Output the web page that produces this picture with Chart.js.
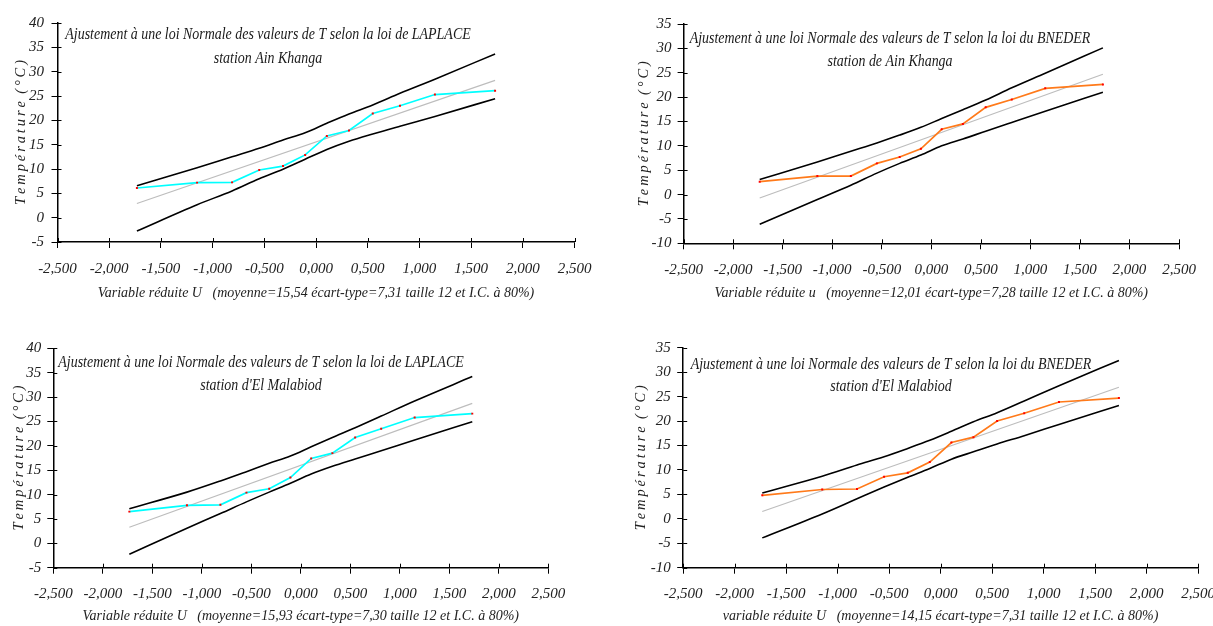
<!DOCTYPE html>
<html lang="fr">
<head>
<meta charset="utf-8">
<title>Ajustement à une loi Normale</title>
<script src="https://cdn.jsdelivr.net/npm/chart.js@4.4.1/dist/chart.umd.min.js"></script>
<style>
  html, body { margin: 0; padding: 0; background: #fff; overflow: hidden; }
  canvas { position: absolute; }
</style>
</head>
<body>
<canvas id="c1" width="606" height="313" style="left:0px;top:0px"></canvas>
<canvas id="c2" width="606" height="313" style="left:607px;top:0px"></canvas>
<canvas id="c3" width="606" height="313" style="left:0px;top:313px"></canvas>
<canvas id="c4" width="630" height="313" style="left:607px;top:313px"></canvas>
<script>
// Variable réduite (abscisses des 12 valeurs classées)
const uValues = [-1.732, -1.150, -0.812, -0.549, -0.319, -0.105, 0.105, 0.319, 0.549, 0.812, 1.150, 1.732];
const uFit = [-1.732, 1.732];

// Graduations
const xTickValues = [-2.5, -2, -1.5, -1, -0.5, 0, 0.5, 1, 1.5, 2, 2.5];
const xTickLabels = ['-2,500', '-2,000', '-1,500', '-1,000', '-0,500', '0,000', '0,500', '1,000', '1,500', '2,000', '2,500'];
const yTicksA = [-5, 0, 5, 10, 15, 20, 25, 30, 35, 40];
const yTicksB = [-10, -5, 0, 5, 10, 15, 20, 25, 30, 35];

// Ain Khanga - LAPLACE
const tLaplaceAK = [6.1, 7.2, 7.25, 9.8, 10.6, 12.9, 16.8, 17.9, 21.4, 23.0, 25.3, 26.1];
const fitLaplaceAK = [2.9, 28.2];
const supLaplaceAK = [6.55, 10.25, 12.5, 14.25, 15.95, 17.45, 19.4, 21.3, 23.15, 25.55, 28.45, 33.65];
const infLaplaceAK = [-2.75, 2.65, 5.5, 8.0, 9.95, 12.0, 14.0, 15.7, 17.2, 18.8, 20.8, 24.45];

// Ain Khanga - BNEDER
const tBnederAK = [2.65, 3.8, 3.8, 6.4, 7.7, 9.4, 13.4, 14.5, 17.9, 19.5, 21.8, 22.6];
const fitBnederAK = [-0.7, 24.7];
const supBnederAK = [3.1, 6.7, 8.9, 10.6, 12.2, 13.8, 15.6, 17.4, 19.4, 21.9, 24.9, 30.1];
const infBnederAK = [-6.1, -1.0, 1.9, 4.4, 6.4, 8.1, 10.0, 11.4, 13.0, 14.8, 17.1, 21.0];

// El Malabiod - LAPLACE
const tLaplaceEM = [6.5, 7.8, 7.9, 10.4, 11.2, 13.5, 17.4, 18.5, 21.7, 23.5, 25.8, 26.6];
const fitLaplaceEM = [3.3, 28.7];
const supLaplaceEM = [7.1, 10.5, 12.8, 14.7, 16.4, 17.9, 19.8, 21.7, 23.7, 26.1, 29.2, 34.2];
const infLaplaceEM = [-2.25, 3.1, 6.1, 8.5, 10.5, 12.3, 14.2, 15.8, 17.3, 19.0, 21.2, 24.95];

// El Malabiod - BNEDER
const tBnederEM = [4.8, 6.0, 6.1, 8.6, 9.4, 11.6, 15.6, 16.7, 20.0, 21.6, 23.9, 24.7];
const fitBnederEM = [1.5, 26.9];
const supBnederEM = [5.3, 8.7, 11.0, 12.7, 14.4, 16.06, 17.9, 19.85, 21.7, 24.1, 27.2, 32.4];
const infBnederEM = [-3.9, 1.0, 4.1, 6.5, 8.5, 10.3, 12.2, 13.7, 15.3, 17.0, 19.3, 23.2];

const yTitle = 'T\u2009e\u2009m\u2009p\u2009é\u2009r\u2009a\u2009t\u2009u\u2009r\u2009e\u2002(\u2009°\u2009C\u2009)';
const police = '"Liberation Serif", "DejaVu Serif", serif';

const zip = (xs, ys) => xs.map((x, i) => ({ x: x, y: ys[i] }));

// Titre dessiné dans la zone du graphe (texte condensé comme l'original)
const titreInterne = {
  id: 'titreInterne',
  beforeDatasetsDraw(chart, args, opts) {
    const ctx = chart.ctx;
    ctx.save();
    ctx.font = 'italic 17px ' + police;
    ctx.fillStyle = '#1a1a1a';
    ctx.textAlign = 'center';
    ctx.textBaseline = 'middle';
    opts.lines.forEach((txt, i) => {
      ctx.save();
      ctx.translate(opts.x, opts.y[i]);
      ctx.scale(0.82, 1);
      ctx.fillText(txt, 0, 0);
      ctx.restore();
    });
    ctx.restore();
  }
};

// Petites graduations qui traversent les axes vers l'intérieur
const ticksInternes = {
  id: 'ticksInternes',
  afterDraw(chart) {
    const { ctx, chartArea, scales } = chart;
    ctx.save();
    ctx.strokeStyle = '#000';
    ctx.lineWidth = 1;
    ctx.beginPath();
    scales.x.ticks.forEach(t => {
      const px = Math.round(scales.x.getPixelForValue(t.value)) + 0.5;
      ctx.moveTo(px, chartArea.bottom);
      ctx.lineTo(px, chartArea.bottom - 4);
    });
    scales.y.ticks.forEach(t => {
      const py = Math.round(scales.y.getPixelForValue(t.value)) + 0.5;
      ctx.moveTo(chartArea.left, py);
      ctx.lineTo(chartArea.left + 4, py);
    });
    ctx.stroke();
    ctx.restore();
  }
};

function makeChart(id, o) {
  const ctx = document.getElementById(id).getContext('2d');
  const bande = ys => ({
    data: zip(uValues, ys),
    borderColor: '#000',
    borderWidth: 1.6,
    pointRadius: 0,
    cubicInterpolationMode: 'monotone'
  });
  return new Chart(ctx, {
    type: 'line',
    data: {
      datasets: [
        {
          data: zip(uValues, o.values),
          borderColor: o.color,
          borderWidth: 1.7,
          pointRadius: 1.4,
          pointStyle: 'rect',
          pointBackgroundColor: '#ff0000',
          pointBorderWidth: 0,
          tension: 0
        },
        { data: zip(uFit, o.fit), borderColor: '#bdbdbd', borderWidth: 1.2, pointRadius: 0, tension: 0 },
        bande(o.sup),
        bande(o.inf)
      ]
    },
    options: {
      responsive: false,
      animation: false,
      devicePixelRatio: 1,
      layout: { padding: { left: 0, top: o.padTop, right: o.padRight, bottom: 0 } },
      plugins: {
        legend: { display: false },
        tooltip: { enabled: false },
        titreInterne: { lines: o.titre, x: o.titreX, y: o.titreY }
      },
      scales: {
        x: {
          type: 'linear',
          min: -2.5,
          max: 2.5,
          afterBuildTicks: s => { s.ticks = xTickValues.map(v => ({ value: v })); },
          afterFit: s => { s.height = o.xAxisH; },
          ticks: {
            callback: (v, i) => xTickLabels[i],
            font: { family: police, size: 15, style: 'italic' },
            color: '#222',
            padding: o.xTickPad,
            maxRotation: 0,
            autoSkip: false
          },
          grid: { drawOnChartArea: false, tickLength: 6, color: '#000' },
          border: { color: '#000', width: 1.5 },
          title: {
            display: true,
            text: o.xTitle,
            font: { family: police, size: 14, style: 'italic' },
            color: '#222',
            padding: { top: 0, bottom: o.xTitlePad }
          }
        },
        y: {
          min: o.yTicks[0],
          max: o.yTicks[o.yTicks.length - 1],
          afterBuildTicks: s => { s.ticks = o.yTicks.map(v => ({ value: v })); },
          afterFit: s => { s.width = o.yAxisW; },
          ticks: {
            font: { family: police, size: 15, style: 'italic' },
            color: '#222',
            padding: o.yTickPad
          },
          grid: { drawOnChartArea: false, tickLength: 6, color: '#000' },
          border: { color: '#000', width: 1.5 },
          title: {
            display: true,
            text: yTitle,
            font: { family: police, size: 14.5, style: 'italic' },
            color: '#222',
            padding: { top: o.yTitlePad, bottom: 0 }
          }
        }
      }
    },
    plugins: [titreInterne, ticksInternes]
  });
}

makeChart('c1', {
  values: tLaplaceAK, fit: fitLaplaceAK, sup: supLaplaceAK, inf: infLaplaceAK,
  color: '#00ffff', yTicks: yTicksA,
  titre: ['Ajustement à une loi Normale des valeurs de T selon la loi de LAPLACE', 'station Ain Khanga'],
  titreX: 268, titreY: [35, 58.5],
  xTitle: 'Variable réduite U   (moyenne=15,54 écart-type=7,31 taille 12 et I.C. à 80%)',
  padTop: 23, padRight: 31.5, yAxisW: 57.5, xAxisH: 71,
  xTickPad: 12, yTickPad: 7.5, xTitlePad: 11.6, yTitlePad: 12
});

makeChart('c2', {
  values: tBnederAK, fit: fitBnederAK, sup: supBnederAK, inf: infBnederAK,
  color: '#ff7a1a', yTicks: yTicksB,
  titre: ['Ajustement à une loi Normale des valeurs de T selon la loi du BNEDER', 'station de Ain Khanga'],
  titreX: 283, titreY: [39, 61.7],
  xTitle: 'Variable réduite u   (moyenne=12,01 écart-type=7,28 taille 12 et I.C. à 80%)',
  padTop: 24, padRight: 34, yAxisW: 76.6, xAxisH: 69.7,
  xTickPad: 11.7, yTickPad: 6, xTitlePad: 11.3, yTitlePad: 28
});

makeChart('c3', {
  values: tLaplaceEM, fit: fitLaplaceEM, sup: supLaplaceEM, inf: infLaplaceEM,
  color: '#00ffff', yTicks: yTicksA,
  titre: ['Ajustement à une loi Normale des valeurs de T selon la loi de LAPLACE', "station d'El Malabiod"],
  titreX: 261, titreY: [49.7, 73],
  xTitle: 'Variable réduite U   (moyenne=15,93 écart-type=7,30 taille 12 et I.C. à 80%)',
  padTop: 35.3, padRight: 57.7, yAxisW: 53.3, xAxisH: 58.3,
  xTickPad: 11.3, yTickPad: 6, xTitlePad: 1.6, yTitlePad: 10
});

makeChart('c4', {
  values: tBnederEM, fit: fitBnederEM, sup: supBnederEM, inf: infBnederEM,
  color: '#ff7a1a', yTicks: yTicksB,
  titre: ['Ajustement à une loi Normale des valeurs de T selon la loi du BNEDER', "station d'El Malabiod"],
  titreX: 284, titreY: [51.3, 73.5],
  xTitle: 'variable réduite U   (moyenne=14,15 écart-type=7,31 taille 12 et I.C. à 80%)',
  padTop: 34.7, padRight: 39, yAxisW: 76.2, xAxisH: 58.3,
  xTickPad: 11.6, yTickPad: 6.5, xTitlePad: 1.6, yTitlePad: 25
});
</script>
</body>
</html>
